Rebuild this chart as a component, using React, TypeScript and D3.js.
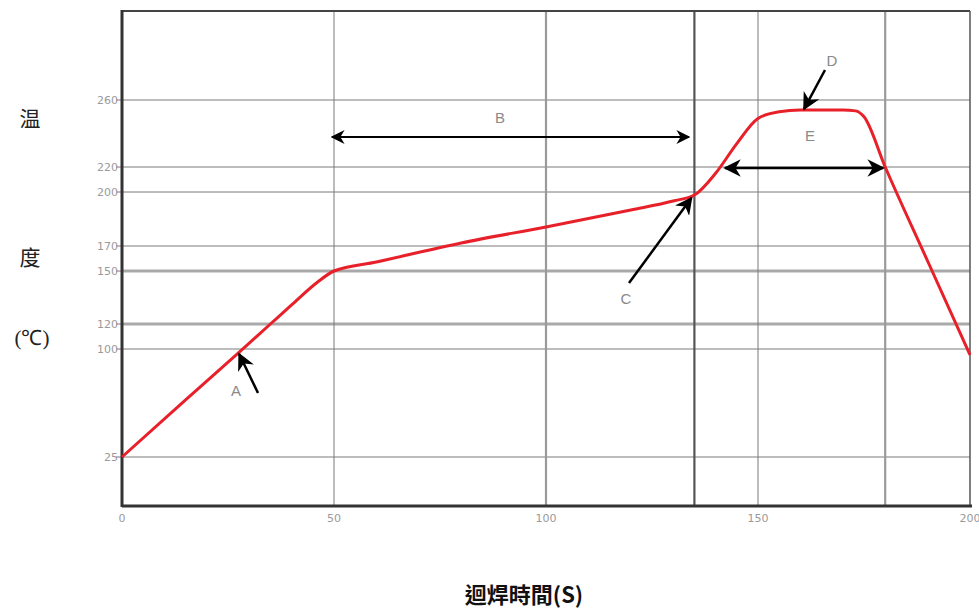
import React from "react";
import * as d3 from "d3";

const yTicks = [25, 100, 120, 150, 170, 200, 220, 260];
const yThick = [120, 150];
const xTicks = [0, 50, 100, 150, 200];
const xGrid = [50, 100, 135, 150, 180];
const profileX = [0, 15, 27.4, 35, 40, 46, 50, 60, 80, 100, 120, 130, 135, 140, 145, 150, 155, 160, 170, 173, 175, 180, 190, 200];
const profileY = [25, 64.6, 97.2, 120, 130.8, 143.5, 150, 157.2, 171.7, 180.6, 190, 195, 198.3, 215, 234, 249, 253, 254, 254, 253.5, 250, 220, 158, 96];
const labels = ["A", "B", "C", "D", "E"];

export default function App() {
  const W = 979, H = 610;
  const x = d3.scaleLinear().domain([0, 200]).range([122, 970]);
  // the reference's temperature axis is not evenly spaced; map each tick to its place
  const y = d3.scaleLinear().domain(yTicks).range([457, 349, 324, 271, 246, 192, 167, 100]);
  const top = 11, bottom = 506;
  const line = d3.line<number>().x((_, i) => x(profileX[i])).y((d) => y(d)).curve(d3.curveMonotoneX);
  const gridStyle = (v: number) => {
    if (v === 135) return { stroke: "#555", w: 2.2 };
    if (v === 100 || v === 180) return { stroke: "#9a9a9a", w: 2.2 };
    return { stroke: "#7a7a7a", w: 1 };
  };
  const lab = { fill: "#8a8a8a", fontFamily: "Liberation Sans, Arial, sans-serif", fontSize: 15 };
  const tick = { fill: "#9a9a9a", fontFamily: "DejaVu Sans, sans-serif", fontSize: 11 };
  return (
    <svg width={W} height={H} style={{ position: "absolute", left: 0, top: 0, background: "#fff" }}>
      <defs>
        <marker id="ah" viewBox="0 0 10 10" refX="9" refY="5" markerWidth="7" markerHeight="7" orient="auto-start-reverse">
          <path d="M0,0 L10,5 L0,10 L3,5 z" fill="#000" />
        </marker>
      </defs>
      {yTicks.map((t) => {
        const th = yThick.includes(t);
        return (
          <g key={"y" + t}>
            <line x1={122} x2={970} y1={y(t)} y2={y(t)} stroke={th ? "#a9a9a9" : "#7a7a7a"} strokeWidth={th ? 3 : 1} />
            <line x1={116} x2={122} y1={y(t)} y2={y(t)} stroke="#8a6a8a" strokeWidth={1} />
            <text x={118} y={y(t) + 4} textAnchor="end" style={tick}>{t}</text>
          </g>
        );
      })}
      {xGrid.map((t) => {
        const s = gridStyle(t);
        return <line key={"x" + t} x1={x(t)} x2={x(t)} y1={top} y2={bottom} stroke={s.stroke} strokeWidth={s.w} />;
      })}
      {xTicks.map((t) => (
        <text key={"xt" + t} x={x(t)} y={522} textAnchor="middle" style={tick}>{t}</text>
      ))}
      <line x1={122} x2={970} y1={top} y2={top} stroke="#444" strokeWidth={1.8} />
      <line x1={970} x2={970} y1={top} y2={bottom} stroke="#555" strokeWidth={1.5} />
      <line x1={122} x2={122} y1={top - 1} y2={bottom + 1} stroke="#333" strokeWidth={3} />
      <line x1={122} x2={972} y1={bottom} y2={bottom} stroke="#333" strokeWidth={3} />
      <path d={line(profileY) || ""} fill="none" stroke="#e8202a" strokeWidth={3} />
      {/* A */}
      <line x1={258} x2={x(27.4) + 1} y1={393} y2={y(97.2) + 1} stroke="#000" strokeWidth={2.5} markerEnd="url(#ah)" />
      <text x={236} y={396} textAnchor="middle" style={lab}>{labels[0]}</text>
      {/* B */}
      <line x1={332} x2={689} y1={137} y2={137} stroke="#000" strokeWidth={2} markerStart="url(#ah)" markerEnd="url(#ah)" />
      <text x={500} y={123} textAnchor="middle" style={lab}>{labels[1]}</text>
      {/* C */}
      <line x1={629} x2={x(135) - 3} y1={283} y2={y(198.3) + 3} stroke="#000" strokeWidth={2.5} markerEnd="url(#ah)" />
      <text x={626} y={304} textAnchor="middle" style={lab}>{labels[2]}</text>
      {/* D */}
      <line x1={825} x2={804} y1={70} y2={y(254) - 1} stroke="#000" strokeWidth={2.5} markerEnd="url(#ah)" />
      <text x={832} y={66} textAnchor="middle" style={lab}>{labels[3]}</text>
      {/* E */}
      <line x1={725} x2={x(180) - 2} y1={168} y2={168} stroke="#000" strokeWidth={2.5} markerStart="url(#ah)" markerEnd="url(#ah)" />
      <text x={810} y={141} textAnchor="middle" style={lab}>{labels[4]}</text>
      <text x={30} y={126} textAnchor="middle" style={{ fontFamily: "Noto Sans CJK TC, serif", fontSize: 21, fill: "#222" }}>温</text>
      <text x={30} y={265} textAnchor="middle" style={{ fontFamily: "Noto Sans CJK TC, serif", fontSize: 21, fill: "#222" }}>度</text>
      <text x={32} y={345} textAnchor="middle" style={{ fontFamily: "Liberation Serif, serif", fontSize: 21, fill: "#222" }}>(℃)</text>
      <text x={524} y={603} textAnchor="middle" style={{ fontFamily: "Noto Sans CJK TC, serif", fontSize: 22, fontWeight: 700, fill: "#111" }}>迴焊時間(S)</text>
    </svg>
  );
}
